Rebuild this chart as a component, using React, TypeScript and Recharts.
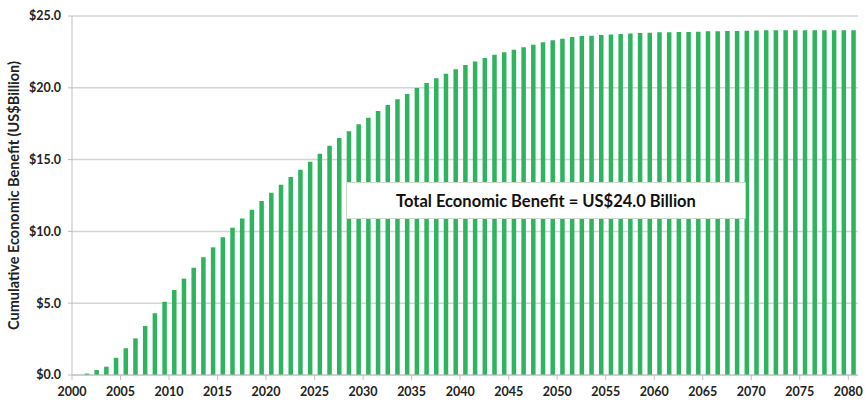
import React from "react";
import { BarChart, Bar, XAxis, YAxis, CartesianGrid } from "recharts";

// Years covered by the projection (2000 through 2080)
const years: number[] = Array.from({ length: 81 }, (_, i) => 2000 + i);

// Cumulative economic benefit, US$ billion, one value per year
const benefit: number[] = [
  0.0, 0.1, 0.35, 0.58, 1.2, 1.86, 2.55, 3.41, 4.3, 5.1,
  5.92, 6.71, 7.47, 8.2, 8.89, 9.59, 10.26, 10.89, 11.51, 12.12,
  12.7, 13.25, 13.79, 14.3, 14.85, 15.41, 15.97, 16.5, 16.97, 17.46,
  17.92, 18.38, 18.8, 19.2, 19.57, 19.99, 20.33, 20.66, 20.98, 21.29,
  21.59, 21.84, 22.07, 22.31, 22.47, 22.65, 22.82, 23.0, 23.17, 23.31,
  23.42, 23.54, 23.61, 23.63, 23.68, 23.72, 23.75, 23.79, 23.82, 23.84,
  23.86, 23.86, 23.89, 23.89, 23.91, 23.93, 23.93, 23.96, 23.96, 23.98,
  23.99, 24.0, 24.0, 24.0, 24.0, 24.0, 24.0, 24.0, 24.0, 24.0,
  24.0,
];

const xTicks: number[] = [
  2000, 2005, 2010, 2015, 2020, 2025, 2030, 2035, 2040,
  2045, 2050, 2055, 2060, 2065, 2070, 2075, 2080,
];
const yTicks: number[] = [0, 5, 10, 15, 20, 25];

const totalLabel = "Total Economic Benefit = US$24.0 Billion";
const yTitle = "Cumulative Economic Benefit (US$Billion)";

// Each bar spans its year, so it sits at the middle of the year interval
const data = years.map((year, i) => ({ year, mid: year + 0.5, value: benefit[i] }));

const FONT = "Lato, 'Open Sans', sans-serif";
const tickStyle = { fill: "#222", fontSize: 12.5, fontWeight: 700, fontFamily: FONT };

export default function App() {
  return (
    <div style={{ position: "absolute", left: 0, top: 0, width: 865, height: 400, background: "#fff" }}>
      <BarChart
        width={865}
        height={400}
        data={data}
        margin={{ top: 16, right: 7, bottom: 0, left: 0 }}
        barCategoryGap={0}
      >
        <CartesianGrid vertical={false} stroke="#d4d4d4" strokeWidth={1.5} />
        <XAxis
          dataKey="mid"
          type="number"
          domain={[2000, 2081]}
          ticks={xTicks}
          interval={0}
          allowDecimals={false}
          tick={tickStyle}
          tickSize={5}
          tickMargin={7}
          stroke="#bfbfbf"
          height={25}
        />
        <YAxis
          domain={[0, 25]}
          ticks={yTicks}
          interval={0}
          tickFormatter={(v: number) => `$${v.toFixed(1)}`}
          tick={tickStyle}
          tickSize={4}
          tickMargin={7}
          stroke="#bfbfbf"
          width={72}
          label={{
            value: yTitle,
            angle: -90,
            position: "insideLeft",
            offset: 14,
            dy: 0,
            style: { textAnchor: "middle", fill: "#222", fontSize: 14.5, fontWeight: 700, fontFamily: FONT },
          }}
        />
        <Bar dataKey="value" fill="#2EB35F" barSize={4.5} isAnimationActive={false} />
      </BarChart>
      <div
        style={{
          position: "absolute",
          left: 346,
          top: 182,
          width: 400,
          height: 37,
          background: "#fff",
          border: "1px solid #c8dcc8",
          boxSizing: "border-box",
          display: "flex",
          alignItems: "center",
          justifyContent: "center",
          fontFamily: FONT,
          fontWeight: 700,
          fontSize: 16.5,
          color: "#111",
        }}
      >
        {totalLabel}
      </div>
    </div>
  );
}
